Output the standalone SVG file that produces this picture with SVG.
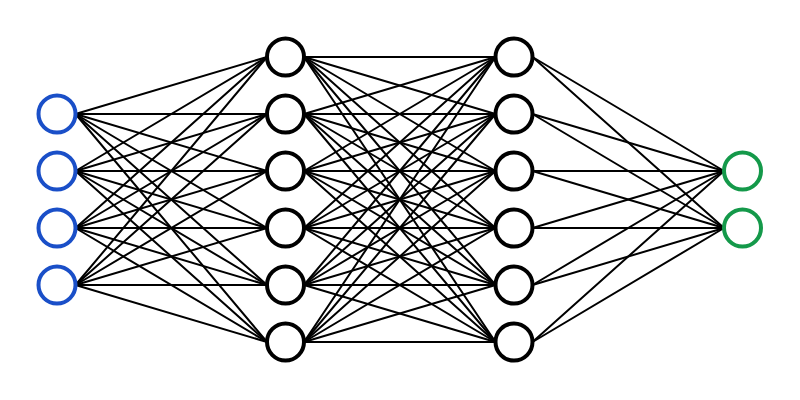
<svg xmlns="http://www.w3.org/2000/svg" width="800" height="400" viewBox="0 0 800 400">
<style>
.c line{stroke:#000;stroke-width:2;stroke-linecap:round}
.n{fill:#fff;stroke-width:4}
.in{stroke:#1a4fc8}
.hd{stroke:#000}
.out{stroke:#14994a}
</style>
<rect width="800" height="400" fill="#fff"/>
<g id="connectors" class="c">
<line x1="75.5" y1="114" x2="267" y2="57"/><line x1="75.5" y1="114" x2="267" y2="114"/><line x1="75.5" y1="114" x2="267" y2="171"/><line x1="75.5" y1="114" x2="267" y2="228"/><line x1="75.5" y1="114" x2="267" y2="285"/><line x1="75.5" y1="114" x2="267" y2="342"/>
<line x1="75.5" y1="171" x2="267" y2="57"/><line x1="75.5" y1="171" x2="267" y2="114"/><line x1="75.5" y1="171" x2="267" y2="171"/><line x1="75.5" y1="171" x2="267" y2="228"/><line x1="75.5" y1="171" x2="267" y2="285"/><line x1="75.5" y1="171" x2="267" y2="342"/>
<line x1="75.5" y1="228" x2="267" y2="57"/><line x1="75.5" y1="228" x2="267" y2="114"/><line x1="75.5" y1="228" x2="267" y2="171"/><line x1="75.5" y1="228" x2="267" y2="228"/><line x1="75.5" y1="228" x2="267" y2="285"/><line x1="75.5" y1="228" x2="267" y2="342"/>
<line x1="75.5" y1="285" x2="267" y2="57"/><line x1="75.5" y1="285" x2="267" y2="114"/><line x1="75.5" y1="285" x2="267" y2="171"/><line x1="75.5" y1="285" x2="267" y2="228"/><line x1="75.5" y1="285" x2="267" y2="285"/><line x1="75.5" y1="285" x2="267" y2="342"/>
<line x1="304" y1="57" x2="495.5" y2="57"/><line x1="304" y1="57" x2="495.5" y2="114"/><line x1="304" y1="57" x2="495.5" y2="171"/><line x1="304" y1="57" x2="495.5" y2="228"/><line x1="304" y1="57" x2="495.5" y2="285"/><line x1="304" y1="57" x2="495.5" y2="342"/>
<line x1="304" y1="114" x2="495.5" y2="57"/><line x1="304" y1="114" x2="495.5" y2="114"/><line x1="304" y1="114" x2="495.5" y2="171"/><line x1="304" y1="114" x2="495.5" y2="228"/><line x1="304" y1="114" x2="495.5" y2="285"/><line x1="304" y1="114" x2="495.5" y2="342"/>
<line x1="304" y1="171" x2="495.5" y2="57"/><line x1="304" y1="171" x2="495.5" y2="114"/><line x1="304" y1="171" x2="495.5" y2="171"/><line x1="304" y1="171" x2="495.5" y2="228"/><line x1="304" y1="171" x2="495.5" y2="285"/><line x1="304" y1="171" x2="495.5" y2="342"/>
<line x1="304" y1="228" x2="495.5" y2="57"/><line x1="304" y1="228" x2="495.5" y2="114"/><line x1="304" y1="228" x2="495.5" y2="171"/><line x1="304" y1="228" x2="495.5" y2="228"/><line x1="304" y1="228" x2="495.5" y2="285"/><line x1="304" y1="228" x2="495.5" y2="342"/>
<line x1="304" y1="285" x2="495.5" y2="57"/><line x1="304" y1="285" x2="495.5" y2="114"/><line x1="304" y1="285" x2="495.5" y2="171"/><line x1="304" y1="285" x2="495.5" y2="228"/><line x1="304" y1="285" x2="495.5" y2="285"/><line x1="304" y1="285" x2="495.5" y2="342"/>
<line x1="304" y1="342" x2="495.5" y2="57"/><line x1="304" y1="342" x2="495.5" y2="114"/><line x1="304" y1="342" x2="495.5" y2="171"/><line x1="304" y1="342" x2="495.5" y2="228"/><line x1="304" y1="342" x2="495.5" y2="285"/><line x1="304" y1="342" x2="495.5" y2="342"/>
<line x1="532.5" y1="57" x2="724" y2="171"/><line x1="532.5" y1="57" x2="724" y2="228"/>
<line x1="532.5" y1="114" x2="724" y2="171"/><line x1="532.5" y1="114" x2="724" y2="228"/>
<line x1="532.5" y1="171" x2="724" y2="171"/><line x1="532.5" y1="171" x2="724" y2="228"/>
<line x1="532.5" y1="228" x2="724" y2="171"/><line x1="532.5" y1="228" x2="724" y2="228"/>
<line x1="532.5" y1="285" x2="724" y2="171"/><line x1="532.5" y1="285" x2="724" y2="228"/>
<line x1="532.5" y1="342" x2="724" y2="171"/><line x1="532.5" y1="342" x2="724" y2="228"/>
</g>
<g id="in1"><circle class="n in" cx="57" cy="114" r="18.5"/></g>
<g id="in2"><circle class="n in" cx="57" cy="171" r="18.5"/></g>
<g id="in3"><circle class="n in" cx="57" cy="228" r="18.5"/></g>
<g id="in4"><circle class="n in" cx="57" cy="285" r="18.5"/></g>
<g id="h1_1"><circle class="n hd" cx="285.5" cy="57" r="18.5"/></g>
<g id="h1_2"><circle class="n hd" cx="285.5" cy="114" r="18.5"/></g>
<g id="h1_3"><circle class="n hd" cx="285.5" cy="171" r="18.5"/></g>
<g id="h1_4"><circle class="n hd" cx="285.5" cy="228" r="18.5"/></g>
<g id="h1_5"><circle class="n hd" cx="285.5" cy="285" r="18.5"/></g>
<g id="h1_6"><circle class="n hd" cx="285.5" cy="342" r="18.5"/></g>
<g id="h2_1"><circle class="n hd" cx="514" cy="57" r="18.5"/></g>
<g id="h2_2"><circle class="n hd" cx="514" cy="114" r="18.5"/></g>
<g id="h2_3"><circle class="n hd" cx="514" cy="171" r="18.5"/></g>
<g id="h2_4"><circle class="n hd" cx="514" cy="228" r="18.5"/></g>
<g id="h2_5"><circle class="n hd" cx="514" cy="285" r="18.5"/></g>
<g id="h2_6"><circle class="n hd" cx="514" cy="342" r="18.5"/></g>
<g id="out1"><circle class="n out" cx="742.5" cy="171" r="18.5"/></g>
<g id="out2"><circle class="n out" cx="742.5" cy="228" r="18.5"/></g>
</svg>
